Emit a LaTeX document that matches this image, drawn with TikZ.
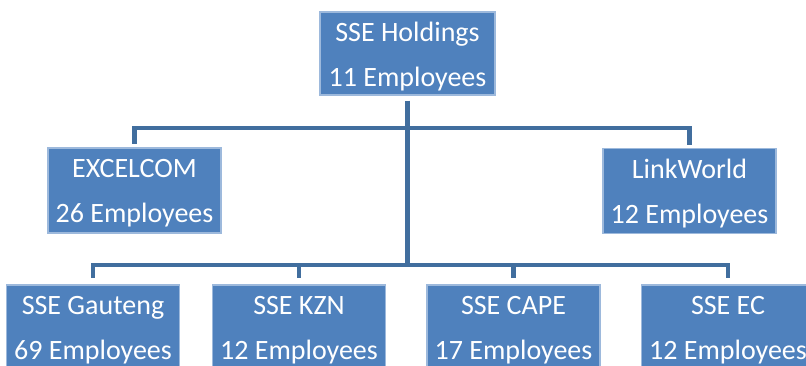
\documentclass[tikz,border=0pt]{standalone}
\usepackage{fontspec}
\setmainfont{Carlito}
\definecolor{boxblue}{HTML}{4F81BD}
\definecolor{boxedge}{HTML}{9DB9DC}
\definecolor{linkblue}{HTML}{416E9E}
\begin{document}
\begin{tikzpicture}[x=1pt,y=-1pt,
  unit/.style={rectangle, fill=boxblue, draw=boxedge, line width=1.2pt,
    minimum width=173pt, minimum height=85pt, inner sep=0pt},
  lab/.style={text=white, align=center, inner sep=0pt, yshift=-3pt,
    font=\fontsize{28}{45}\selectfont},
  link/.style={draw=linkblue, line width=4.5pt}]
\useasboundingbox (0,0) rectangle (806,365);
\clip (0,0) rectangle (806,365);
\node[unit, minimum width=175pt, minimum height=83pt, label={[lab]center:SSE Holdings\\11 Employees}] (top) at (407.5,53.5) {};
\node[unit, label={[lab]center:EXCELCOM\\26 Employees}] (ex) at (134.5,190.5) {};
\node[unit, label={[lab]center:LinkWorld\\12 Employees}] (lw) at (689.5,191) {};
\node[unit, label={[lab]center:SSE Gauteng\\69 Employees}] (ga) at (93,327.5) {};
\node[unit, label={[lab]center:SSE KZN\\12 Employees}] (kz) at (299,327.5) {};
\node[unit, label={[lab]center:SSE CAPE\\17 Employees}] (ca) at (513.5,327.5) {};
\node[unit, label={[lab]center:SSE EC\\12 Employees}] (ec) at (728,327.5) {};
\coordinate (bus1) at (407.5,128);
\coordinate (bus2) at (407.5,265);
\draw[link, shorten <=5pt] (top.south) -- (bus2);
\draw[link, shorten >=3pt] (bus1) -| (ex.north);
\draw[link, shorten >=3pt] (bus1) -| (lw.north);
\draw[link, shorten >=6pt] (bus2) -| (ga.north);
\draw[link, shorten >=6pt] (bus2) -| (kz.north);
\draw[link, shorten >=6pt] (bus2) -| (ca.north);
\draw[link, shorten >=6pt] (bus2) -| (ec.north);
\end{tikzpicture}
\end{document}
